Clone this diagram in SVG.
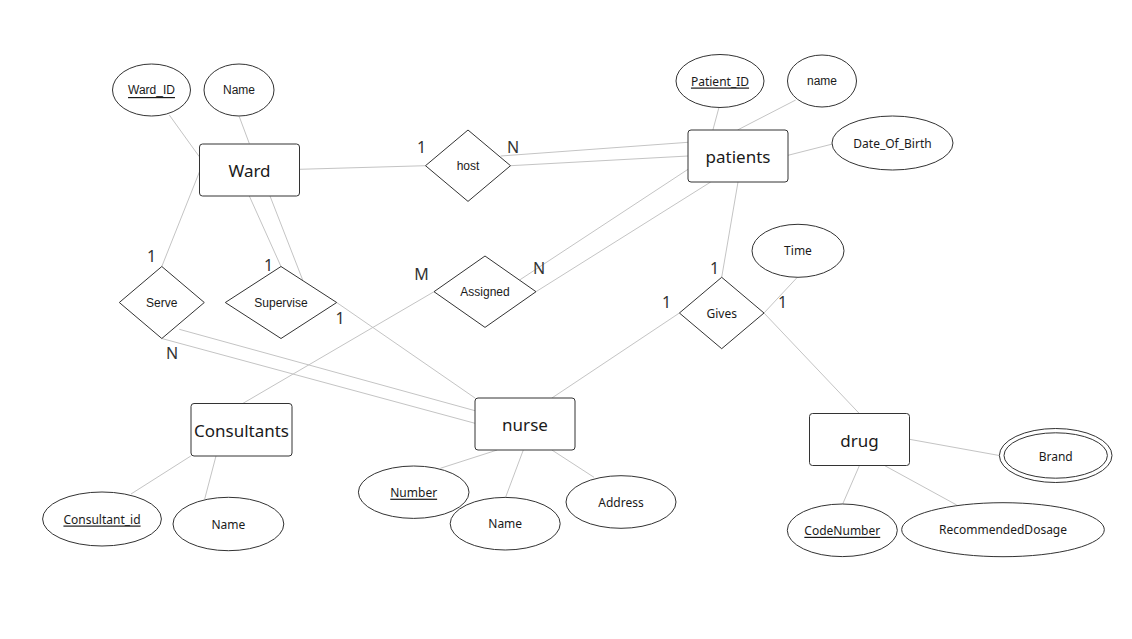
<svg xmlns="http://www.w3.org/2000/svg" width="1132" height="639" viewBox="0 0 1132 639">
<style>
.ent{fill:#fff;stroke:#333;stroke-width:1}
.attr{fill:#fff;stroke:#333;stroke-width:1}
.rel{fill:#fff;stroke:#333;stroke-width:1}
.conn line{stroke:#c4c4c4;stroke-width:1}
text{fill:#1a1a1a;text-anchor:middle;dominant-baseline:central}
.et{font-family:"Noto Sans","Open Sans",sans-serif;font-size:17px}
.at{font-family:"Noto Sans","Open Sans",sans-serif;font-size:12px}
.ar{font-family:"Liberation Sans",Arial,sans-serif;font-size:12px}
.key{text-decoration:underline}
.card{font-family:"Noto Sans","Open Sans",sans-serif;font-size:16px;fill:#333}
</style>
<rect width="1132" height="639" fill="#fff"/>
<g id="connectors" class="conn">
<line x1="169.3" y1="115" x2="199.3" y2="156.7"/>
<line x1="239.3" y1="116.7" x2="249.3" y2="143.5"/>
<line x1="299.5" y1="169.3" x2="425.7" y2="165.7"/>
<line x1="199.5" y1="171.7" x2="161.8" y2="266.5"/>
<line x1="249.3" y1="196" x2="281" y2="266.5"/>
<line x1="270" y1="196" x2="302.7" y2="280"/>
<line x1="336.7" y1="302.5" x2="475" y2="398"/>
<line x1="179.3" y1="329.3" x2="475" y2="410.7"/>
<line x1="161.8" y1="338.5" x2="475" y2="423.3"/>
<line x1="500.7" y1="156" x2="688" y2="142.3"/>
<line x1="510.5" y1="165.7" x2="688" y2="156"/>
<line x1="688" y1="169.3" x2="519.6" y2="280"/>
<line x1="710.7" y1="182" x2="536" y2="291.7"/>
<line x1="434" y1="291.7" x2="242.7" y2="403.5"/>
<line x1="719" y1="107.3" x2="712.9" y2="130"/>
<line x1="795.7" y1="100" x2="737.5" y2="130"/>
<line x1="788" y1="155.3" x2="832.5" y2="144"/>
<line x1="738" y1="182" x2="721.7" y2="277.3"/>
<line x1="797.3" y1="277.3" x2="764" y2="313"/>
<line x1="764" y1="313" x2="859.3" y2="413.5"/>
<line x1="679.4" y1="313" x2="551.9" y2="398"/>
<line x1="909.5" y1="439.3" x2="999.3" y2="455.5"/>
<line x1="859.3" y1="465.8" x2="842.7" y2="504"/>
<line x1="885" y1="465.8" x2="956.7" y2="505"/>
<line x1="190.8" y1="456" x2="131" y2="494"/>
<line x1="216" y1="456" x2="204.7" y2="499"/>
<line x1="497.2" y1="450" x2="440.3" y2="468.3"/>
<line x1="523.3" y1="450" x2="505.6" y2="497.3"/>
<line x1="551.9" y1="450" x2="594" y2="477.3"/>
</g>
<g id="ward">
<rect class="ent" x="199.5" y="144" width="100" height="52" rx="3"/>
<text class="et" x="249.5" y="170">Ward</text>
</g>
<g id="ward_id">
<ellipse class="attr" cx="151.5" cy="90" rx="39" ry="26"/>
<text class="ar key" x="151.5" y="90">Ward_ID</text>
</g>
<g id="ward_name">
<ellipse class="attr" cx="239" cy="90" rx="35" ry="26"/>
<text class="ar" x="239" y="90">Name</text>
</g>
<g id="host">
<polygon class="rel" points="468,130 510.5,165.7 468,201.4 425.5,165.7"/>
<text class="ar" x="468" y="165.7">host</text>
</g>
<g id="patients">
<rect class="ent" x="688" y="130" width="100" height="52" rx="3"/>
<text class="et" x="738" y="156">patients</text>
</g>
<g id="patient_id">
<ellipse class="attr" cx="720" cy="81" rx="44" ry="26.5"/>
<text class="at key" x="720" y="81">Patient_ID</text>
</g>
<g id="patient_name">
<ellipse class="attr" cx="822" cy="81" rx="34.5" ry="26"/>
<text class="ar" x="822" y="81">name</text>
</g>
<g id="dob">
<ellipse class="attr" cx="892.5" cy="143" rx="60.5" ry="27"/>
<text class="at" x="892.5" y="143">Date_Of_Birth</text>
</g>
<g id="serve">
<polygon class="rel" points="161.8,266.5 204.3,302.5 161.8,338.5 119.3,302.5"/>
<text class="ar" x="161.8" y="302.5">Serve</text>
</g>
<g id="supervise">
<polygon class="rel" points="281,266.5 336.7,302.5 281,338.5 225.3,302.5"/>
<text class="ar" x="281" y="302.5">Supervise</text>
</g>
<g id="assigned">
<polygon class="rel" points="485,256 536,291.7 485,327.4 434,291.7"/>
<text class="ar" x="485" y="291.7">Assigned</text>
</g>
<g id="gives">
<polygon class="rel" points="721.7,277.3 764,313 721.7,348.7 679.4,313"/>
<text class="at" x="721.7" y="313">Gives</text>
</g>
<g id="time">
<ellipse class="attr" cx="798" cy="250.8" rx="46" ry="26.5"/>
<text class="at" x="798" y="250.8">Time</text>
</g>
<g id="consultants">
<rect class="ent" x="191" y="403.5" width="101" height="52.5" rx="3"/>
<text class="et" x="241.5" y="430">Consultants</text>
</g>
<g id="consultant_id">
<ellipse class="attr" cx="102" cy="519" rx="59.4" ry="27"/>
<text class="at key" x="102" y="519">Consultant_id</text>
</g>
<g id="consultant_name">
<ellipse class="attr" cx="228.4" cy="524" rx="55.4" ry="26.7"/>
<text class="at" x="228.4" y="524">Name</text>
</g>
<g id="nurse">
<rect class="ent" x="475" y="398" width="100" height="52" rx="3"/>
<text class="et" x="525" y="424">nurse</text>
</g>
<g id="nurse_number">
<ellipse class="attr" cx="413.7" cy="492.2" rx="55.3" ry="26.2"/>
<text class="at key" x="413.7" y="492.2">Number</text>
</g>
<g id="nurse_name">
<ellipse class="attr" cx="505.2" cy="523.7" rx="55" ry="26.3"/>
<text class="at" x="505.2" y="523.7">Name</text>
</g>
<g id="nurse_address">
<ellipse class="attr" cx="621" cy="502" rx="55" ry="26.3"/>
<text class="at" x="621" y="502">Address</text>
</g>
<g id="drug">
<rect class="ent" x="809.5" y="413.5" width="100" height="52" rx="3"/>
<text class="et" x="859.5" y="440">drug</text>
</g>
<g id="brand">
<ellipse class="attr" cx="1055.7" cy="455.5" rx="56.3" ry="27"/>
<ellipse class="attr" cx="1055.7" cy="455.5" rx="51.7" ry="22.7"/>
<text class="at" x="1055.7" y="456">Brand</text>
</g>
<g id="codenumber">
<ellipse class="attr" cx="842.3" cy="530.3" rx="55" ry="26.3"/>
<text class="at key" x="842.3" y="530.3">CodeNumber</text>
</g>
<g id="dosage">
<ellipse class="attr" cx="1003" cy="529.7" rx="101.3" ry="27"/>
<text class="at" x="1003" y="529.7">RecommendedDosage</text>
</g>
<g id="cardinalities">
<text class="card" x="421.5" y="147">1</text>
<text class="card" x="513" y="147">N</text>
<text class="card" x="151.5" y="256">1</text>
<text class="card" x="268.5" y="265">1</text>
<text class="card" x="340" y="318">1</text>
<text class="card" x="172" y="353">N</text>
<text class="card" x="421.5" y="274">M</text>
<text class="card" x="539" y="268">N</text>
<text class="card" x="714.5" y="268">1</text>
<text class="card" x="666.5" y="302">1</text>
<text class="card" x="782.5" y="302">1</text>
</g>
</svg>
